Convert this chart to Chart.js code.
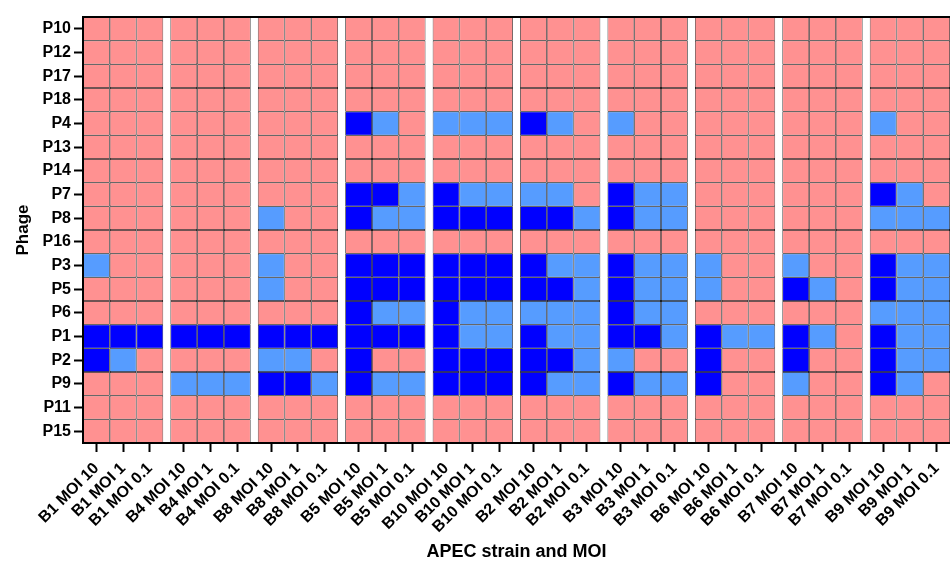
<!DOCTYPE html>
<html>
<head>
<meta charset="utf-8">
<script src="https://cdn.jsdelivr.net/npm/chart.js@4/dist/chart.umd.min.js"></script>
<style>
  html, body { margin: 0; padding: 0; background: #fff; overflow: hidden; }
  canvas { display: block; }
</style>
</head>
<body>
<canvas id="heat" width="950" height="563"></canvas>
<script>
// Strains (column groups) and multiplicities of infection within each group
const strains = ['B1', 'B4', 'B8', 'B5', 'B10', 'B2', 'B3', 'B6', 'B7', 'B9'];
const mois = ['10', '1', '0.1'];
// Phages, top to bottom
const phages = ['P10', 'P12', 'P17', 'P18', 'P4', 'P13', 'P14', 'P7', 'P8',
                'P16', 'P3', 'P5', 'P6', 'P1', 'P2', 'P9', 'P11', 'P15'];

// Response per phage: 0 = no effect, 1 = partial, 2 = strong
// Order: B1 x3, B4 x3, B8 x3, B5 x3, B10 x3, B2 x3, B3 x3, B6 x3, B7 x3, B9 x3
const P10 = [0,0,0, 0,0,0, 0,0,0, 0,0,0, 0,0,0, 0,0,0, 0,0,0, 0,0,0, 0,0,0, 0,0,0];
const P12 = [0,0,0, 0,0,0, 0,0,0, 0,0,0, 0,0,0, 0,0,0, 0,0,0, 0,0,0, 0,0,0, 0,0,0];
const P17 = [0,0,0, 0,0,0, 0,0,0, 0,0,0, 0,0,0, 0,0,0, 0,0,0, 0,0,0, 0,0,0, 0,0,0];
const P18 = [0,0,0, 0,0,0, 0,0,0, 0,0,0, 0,0,0, 0,0,0, 0,0,0, 0,0,0, 0,0,0, 0,0,0];
const P4  = [0,0,0, 0,0,0, 0,0,0, 2,1,0, 1,1,1, 2,1,0, 1,0,0, 0,0,0, 0,0,0, 1,0,0];
const P13 = [0,0,0, 0,0,0, 0,0,0, 0,0,0, 0,0,0, 0,0,0, 0,0,0, 0,0,0, 0,0,0, 0,0,0];
const P14 = [0,0,0, 0,0,0, 0,0,0, 0,0,0, 0,0,0, 0,0,0, 0,0,0, 0,0,0, 0,0,0, 0,0,0];
const P7  = [0,0,0, 0,0,0, 0,0,0, 2,2,1, 2,1,1, 1,1,0, 2,1,1, 0,0,0, 0,0,0, 2,1,0];
const P8  = [0,0,0, 0,0,0, 1,0,0, 2,1,1, 2,2,2, 2,2,1, 2,1,1, 0,0,0, 0,0,0, 1,1,1];
const P16 = [0,0,0, 0,0,0, 0,0,0, 0,0,0, 0,0,0, 0,0,0, 0,0,0, 0,0,0, 0,0,0, 0,0,0];
const P3  = [1,0,0, 0,0,0, 1,0,0, 2,2,2, 2,2,2, 2,1,1, 2,1,1, 1,0,0, 1,0,0, 2,1,1];
const P5  = [0,0,0, 0,0,0, 1,0,0, 2,2,2, 2,2,2, 2,2,1, 2,1,1, 1,0,0, 2,1,0, 2,1,1];
const P6  = [0,0,0, 0,0,0, 0,0,0, 2,1,1, 2,1,1, 1,1,1, 2,1,1, 0,0,0, 0,0,0, 1,1,1];
const P1  = [2,2,2, 2,2,2, 2,2,2, 2,2,2, 2,1,1, 2,1,1, 2,2,1, 2,1,1, 2,1,0, 2,1,1];
const P2  = [2,1,0, 0,0,0, 1,1,0, 2,0,0, 2,2,2, 2,2,1, 1,0,0, 2,0,0, 2,0,0, 2,1,1];
const P9  = [0,0,0, 1,1,1, 2,2,1, 2,1,1, 2,2,2, 2,1,1, 2,1,1, 2,0,0, 1,0,0, 2,1,0];
const P11 = [0,0,0, 0,0,0, 0,0,0, 0,0,0, 0,0,0, 0,0,0, 0,0,0, 0,0,0, 0,0,0, 0,0,0];
const P15 = [0,0,0, 0,0,0, 0,0,0, 0,0,0, 0,0,0, 0,0,0, 0,0,0, 0,0,0, 0,0,0, 0,0,0];

const rows = [P10, P12, P17, P18, P4, P13, P14, P7, P8,
              P16, P3, P5, P6, P1, P2, P9, P11, P15];

const palette = ['#FF9191', '#569CFF', '#0000FF'];

// Column labels and positions on the x scale (a small gap separates strains)
const GROUP_GAP = 0.27;
const colLabels = [];
const colPos = [];
strains.forEach((s, g) => {
  mois.forEach((m, k) => {
    const i = g * mois.length + k;
    colLabels.push(s + ' MOI ' + m);
    colPos.push(i + g * GROUP_GAP);
  });
});

// One floating bar per cell
const cells = [];
rows.forEach((vals, r) => {
  vals.forEach((v, c) => {
    cells.push({ x: colPos[c], y: [r, r + 1], v: v });
  });
});

const FONT = "'Liberation Sans', Arial, Helvetica, sans-serif";

new Chart(document.getElementById('heat'), {
  type: 'bar',
  data: {
    datasets: [{
      data: cells,
      xAxisID: 'x',
      yAxisID: 'y',
      backgroundColor: ctx => palette[ctx.raw ? ctx.raw.v : 0],
      borderColor: '#000',
      borderWidth: 0.7,
      borderSkipped: false,
      inflateAmount: 0,
      categoryPercentage: 1,
      barPercentage: 1
    }]
  },
  options: {
    responsive: false,
    animation: false,
    events: [],
    layout: { padding: 0 },
    plugins: {
      legend: { display: false },
      tooltip: { enabled: false }
    },
    scales: {
      x: {
        type: 'linear',
        position: 'bottom',
        offset: false,
        min: -0.5,
        max: colPos[colPos.length - 1] + 0.5,
        afterBuildTicks: scale => { scale.ticks = colPos.map(v => ({ value: v })); },
        afterFit: scale => { scale.height = 120; scale.paddingLeft = 0; scale.paddingRight = 0; },
        ticks: {
          autoSkip: false,
          minRotation: 45,
          maxRotation: 45,
          padding: 7,
          color: '#000',
          font: { family: FONT, size: 16, weight: 'bold' },
          callback: (v, i) => colLabels[i]
        },
        grid: {
          display: true,
          drawOnChartArea: false,
          offset: false,
          drawTicks: true,
          tickLength: 9,
          tickWidth: 2,
          tickColor: '#000'
        },
        border: { display: true, color: '#000', width: 2, z: 1 },
        title: {
          display: true,
          text: 'APEC strain and MOI',
          color: '#000',
          font: { family: FONT, size: 18, weight: 'bold' },
          padding: { top: 0, bottom: 0 }
        }
      },
      xTop: {
        type: 'linear',
        position: 'top',
        afterFit: scale => { scale.height = 17; scale.paddingLeft = 0; scale.paddingRight = 0; },
        ticks: { display: false },
        grid: { display: false, drawTicks: false },
        border: { display: true, color: '#000', width: 2, z: 1 }
      },
      y: {
        type: 'linear',
        position: 'left',
        reverse: true,
        min: 0,
        max: rows.length,
        afterBuildTicks: scale => { scale.ticks = phages.map((p, i) => ({ value: i + 0.5 })); },
        afterFit: scale => { scale.width = 83; scale.paddingTop = 0; scale.paddingBottom = 0; },
        ticks: {
          autoSkip: false,
          padding: 3,
          color: '#000',
          font: { family: FONT, size: 16, weight: 'bold' },
          callback: (v, i) => phages[i]
        },
        grid: {
          display: true,
          drawOnChartArea: false,
          drawTicks: true,
          tickLength: 9,
          tickWidth: 2,
          tickColor: '#000'
        },
        border: { display: true, color: '#000', width: 2, z: 1 },
        title: {
          display: true,
          text: 'Phage',
          color: '#000',
          font: { family: FONT, size: 17, weight: 'bold' },
          padding: { top: 13, bottom: 0 }
        }
      }
    }
  }
});
</script>
</body>
</html>
